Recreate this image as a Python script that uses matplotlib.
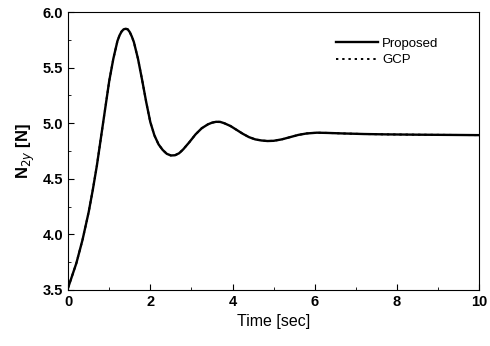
import matplotlib
matplotlib.use('Agg')
import matplotlib.pyplot as plt
from matplotlib.ticker import MultipleLocator

plt.rcParams['font.family'] = ['Liberation Sans', 'DejaVu Sans']

# values
time = [0, 0.1, 0.2, 0.35, 0.5, 0.6, 0.7, 0.85, 1.0, 1.1, 1.2, 1.25, 1.3, 1.35,
        1.4, 1.45, 1.5, 1.55, 1.6, 1.7, 1.8, 1.9, 2.0, 2.1, 2.2, 2.3, 2.4,
        2.5, 2.6, 2.7, 2.8, 2.95, 3.1, 3.25, 3.4, 3.5, 3.6, 3.7, 3.8, 3.95,
        4.1, 4.25, 4.4, 4.55, 4.7, 4.85, 5.0, 5.2, 5.4, 5.6, 5.8, 6.05, 6.3,
        6.7, 7.2, 7.7, 8.5, 9.3, 10]
proposed = [3.52, 3.63, 3.74, 3.95, 4.20, 4.40, 4.62, 5.00, 5.38, 5.58, 5.74,
            5.79, 5.825, 5.845, 5.85, 5.845, 5.82, 5.78, 5.73, 5.58, 5.39,
            5.19, 5.01, 4.89, 4.81, 4.76, 4.725, 4.71, 4.712, 4.73, 4.765,
            4.83, 4.90, 4.955, 4.99, 5.005, 5.013, 5.012, 5.00, 4.975, 4.94,
            4.905, 4.875, 4.855, 4.845, 4.84, 4.842, 4.855, 4.875, 4.895,
            4.908, 4.915, 4.913, 4.908, 4.903, 4.90, 4.897, 4.895, 4.893]
gcp = list(proposed)  # GCP curve overlaps the proposed one

fig = plt.figure(figsize=(4.9, 3.46), dpi=100)
ax = fig.add_axes([0.139, 0.162, 0.839, 0.803])

ax.plot(time, proposed, color='black', lw=1.7, label='Proposed')
ax.plot(time, gcp, color='black', lw=1.4, ls=(0, (1.2, 2)), label='GCP')

ax.set_xlim(0, 10)
ax.set_ylim(3.5, 6.0)
ax.xaxis.set_major_locator(MultipleLocator(2))
ax.xaxis.set_minor_locator(MultipleLocator(1))
ax.yaxis.set_major_locator(MultipleLocator(0.5))
ax.yaxis.set_minor_locator(MultipleLocator(0.25))
ax.tick_params(which='both', direction='in', top=False, right=False, labelsize=10.5)
ax.tick_params(which='major', length=4)
ax.tick_params(which='minor', length=2.5)
for lab in ax.get_xticklabels() + ax.get_yticklabels():
    lab.set_fontweight('bold')

ax.set_xlabel('Time [sec]', fontsize=11.5)
ax.set_ylabel(r'N$_{2y}$ [N]', fontsize=12, fontweight='bold')

ax.legend(loc='upper right', frameon=False, fontsize=9.5, handlelength=3.2,
          handletextpad=0.3, labelspacing=0.3, bbox_to_anchor=(0.93, 0.95))

fig.savefig('out.png', dpi=100)
